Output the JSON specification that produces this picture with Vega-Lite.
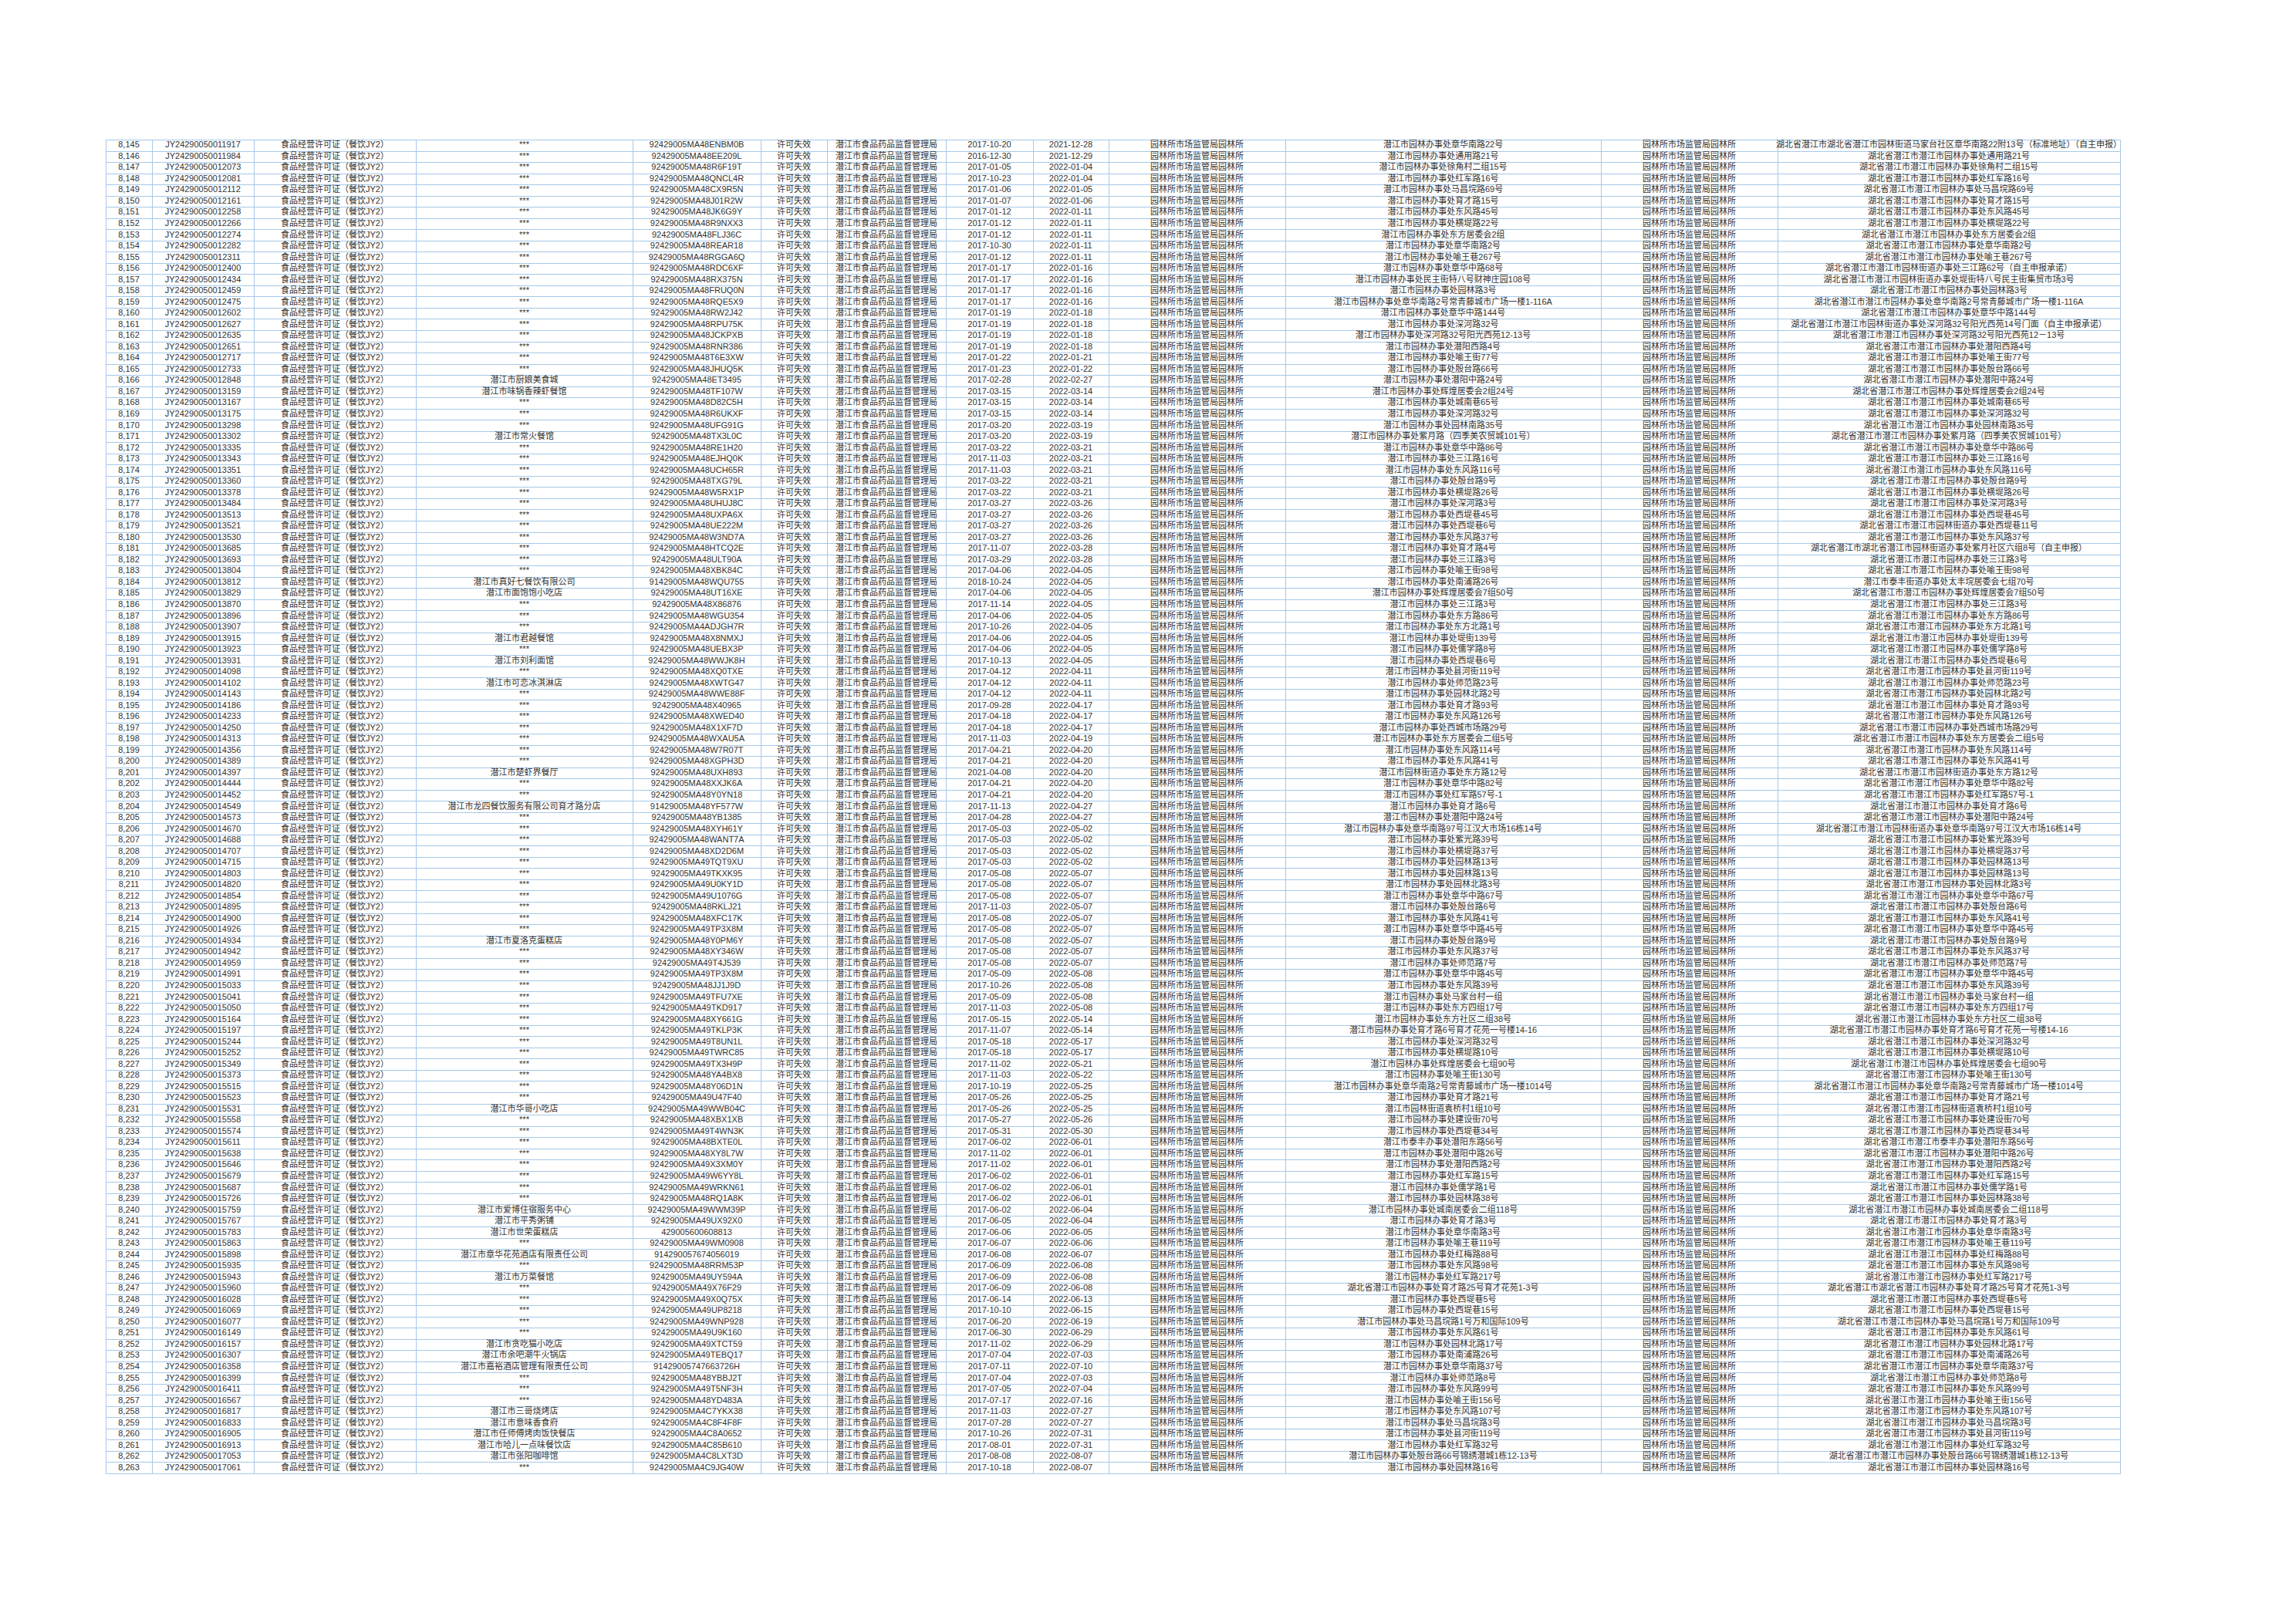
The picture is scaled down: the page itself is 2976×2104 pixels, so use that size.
{
  "$schema": "https://vega.github.io/schema/vega-lite/v6.json",
  "background": "white",
  "padding": {"left": 136, "top": 180, "right": 5, "bottom": 5},
  "spacing": 0,
  "bounds": "flush",
  "data": {"values": [
{"no":8145,"lic":"JY24290050011917","type":"食品经营许可证（餐饮JY2）","name":"***","code":"92429005MA48ENBM0B","status":"许可失效","org":"潜江市食品药品监督管理局","start":"2017-10-20","end":"2021-12-28","dept":"园林所市场监管局园林所","addr":"潜江市园林办事处章华南路22号","dept2":"园林所市场监管局园林所","addr2":"湖北省潜江市湖北省潜江市园林街道马家台社区章华南路22附13号（标准地址）（自主申报）"},
{"no":8146,"lic":"JY24290050011984","type":"食品经营许可证（餐饮JY2）","name":"***","code":"92429005MA48EE209L","status":"许可失效","org":"潜江市食品药品监督管理局","start":"2016-12-30","end":"2021-12-29","dept":"园林所市场监管局园林所","addr":"潜江市园林办事处通用路21号","dept2":"园林所市场监管局园林所","addr2":"湖北省潜江市潜江市园林办事处通用路21号"},
{"no":8147,"lic":"JY24290050012073","type":"食品经营许可证（餐饮JY2）","name":"***","code":"92429005MA48R6F19T","status":"许可失效","org":"潜江市食品药品监督管理局","start":"2017-01-05","end":"2022-01-04","dept":"园林所市场监管局园林所","addr":"潜江市园林办事处徐角村二组15号","dept2":"园林所市场监管局园林所","addr2":"湖北省潜江市潜江市园林办事处徐角村二组15号"},
{"no":8148,"lic":"JY24290050012081","type":"食品经营许可证（餐饮JY2）","name":"***","code":"92429005MA48QNCL4R","status":"许可失效","org":"潜江市食品药品监督管理局","start":"2017-10-23","end":"2022-01-04","dept":"园林所市场监管局园林所","addr":"潜江市园林办事处红军路16号","dept2":"园林所市场监管局园林所","addr2":"湖北省潜江市潜江市园林办事处红军路16号"},
{"no":8149,"lic":"JY24290050012112","type":"食品经营许可证（餐饮JY2）","name":"***","code":"92429005MA48CX9R5N","status":"许可失效","org":"潜江市食品药品监督管理局","start":"2017-01-06","end":"2022-01-05","dept":"园林所市场监管局园林所","addr":"潜江市园林办事处马昌垸路69号","dept2":"园林所市场监管局园林所","addr2":"湖北省潜江市潜江市园林办事处马昌垸路69号"},
{"no":8150,"lic":"JY24290050012161","type":"食品经营许可证（餐饮JY2）","name":"***","code":"92429005MA48J01R2W","status":"许可失效","org":"潜江市食品药品监督管理局","start":"2017-01-07","end":"2022-01-06","dept":"园林所市场监管局园林所","addr":"潜江市园林办事处育才路15号","dept2":"园林所市场监管局园林所","addr2":"湖北省潜江市潜江市园林办事处育才路15号"},
{"no":8151,"lic":"JY24290050012258","type":"食品经营许可证（餐饮JY2）","name":"***","code":"92429005MA48JK6G9Y","status":"许可失效","org":"潜江市食品药品监督管理局","start":"2017-01-12","end":"2022-01-11","dept":"园林所市场监管局园林所","addr":"潜江市园林办事处东风路45号","dept2":"园林所市场监管局园林所","addr2":"湖北省潜江市潜江市园林办事处东风路45号"},
{"no":8152,"lic":"JY24290050012266","type":"食品经营许可证（餐饮JY2）","name":"***","code":"92429005MA48R9NXX3","status":"许可失效","org":"潜江市食品药品监督管理局","start":"2017-01-12","end":"2022-01-11","dept":"园林所市场监管局园林所","addr":"潜江市园林办事处横堤路22号","dept2":"园林所市场监管局园林所","addr2":"湖北省潜江市潜江市园林办事处横堤路22号"},
{"no":8153,"lic":"JY24290050012274","type":"食品经营许可证（餐饮JY2）","name":"***","code":"92429005MA48FLJ36C","status":"许可失效","org":"潜江市食品药品监督管理局","start":"2017-01-12","end":"2022-01-11","dept":"园林所市场监管局园林所","addr":"潜江市园林办事处东方居委会2组","dept2":"园林所市场监管局园林所","addr2":"湖北省潜江市潜江市园林办事处东方居委会2组"},
{"no":8154,"lic":"JY24290050012282","type":"食品经营许可证（餐饮JY2）","name":"***","code":"92429005MA48REAR18","status":"许可失效","org":"潜江市食品药品监督管理局","start":"2017-10-30","end":"2022-01-11","dept":"园林所市场监管局园林所","addr":"潜江市园林办事处章华南路2号","dept2":"园林所市场监管局园林所","addr2":"湖北省潜江市潜江市园林办事处章华南路2号"},
{"no":8155,"lic":"JY24290050012311","type":"食品经营许可证（餐饮JY2）","name":"***","code":"92429005MA48RGGA6Q","status":"许可失效","org":"潜江市食品药品监督管理局","start":"2017-01-12","end":"2022-01-11","dept":"园林所市场监管局园林所","addr":"潜江市园林办事处喻王巷267号","dept2":"园林所市场监管局园林所","addr2":"湖北省潜江市潜江市园林办事处喻王巷267号"},
{"no":8156,"lic":"JY24290050012400","type":"食品经营许可证（餐饮JY2）","name":"***","code":"92429005MA48RDC6XF","status":"许可失效","org":"潜江市食品药品监督管理局","start":"2017-01-17","end":"2022-01-16","dept":"园林所市场监管局园林所","addr":"潜江市园林办事处章华中路68号","dept2":"园林所市场监管局园林所","addr2":"湖北省潜江市潜江市园林街道办事处三江路62号（自主申报承诺）"},
{"no":8157,"lic":"JY24290050012434","type":"食品经营许可证（餐饮JY2）","name":"***","code":"92429005MA48RX375N","status":"许可失效","org":"潜江市食品药品监督管理局","start":"2017-01-17","end":"2022-01-16","dept":"园林所市场监管局园林所","addr":"潜江市园林办事处民主街特八号财神庄园108号","dept2":"园林所市场监管局园林所","addr2":"湖北省潜江市潜江市园林街道办事处堤街特八号民主街集贸市场3号"},
{"no":8158,"lic":"JY24290050012459","type":"食品经营许可证（餐饮JY2）","name":"***","code":"92429005MA48FRUQ0N","status":"许可失效","org":"潜江市食品药品监督管理局","start":"2017-01-17","end":"2022-01-16","dept":"园林所市场监管局园林所","addr":"潜江市园林办事处园林路3号","dept2":"园林所市场监管局园林所","addr2":"湖北省潜江市潜江市园林办事处园林路3号"},
{"no":8159,"lic":"JY24290050012475","type":"食品经营许可证（餐饮JY2）","name":"***","code":"92429005MA48RQE5X9","status":"许可失效","org":"潜江市食品药品监督管理局","start":"2017-01-17","end":"2022-01-16","dept":"园林所市场监管局园林所","addr":"潜江市园林办事处章华南路2号常青藤城市广场一楼1-116A","dept2":"园林所市场监管局园林所","addr2":"湖北省潜江市潜江市园林办事处章华南路2号常青藤城市广场一楼1-116A"},
{"no":8160,"lic":"JY24290050012602","type":"食品经营许可证（餐饮JY2）","name":"***","code":"92429005MA48RW2J42","status":"许可失效","org":"潜江市食品药品监督管理局","start":"2017-01-19","end":"2022-01-18","dept":"园林所市场监管局园林所","addr":"潜江市园林办事处章华中路144号","dept2":"园林所市场监管局园林所","addr2":"湖北省潜江市潜江市园林办事处章华中路144号"},
{"no":8161,"lic":"JY24290050012627","type":"食品经营许可证（餐饮JY2）","name":"***","code":"92429005MA48RPU75K","status":"许可失效","org":"潜江市食品药品监督管理局","start":"2017-01-19","end":"2022-01-18","dept":"园林所市场监管局园林所","addr":"潜江市园林办事处深河路32号","dept2":"园林所市场监管局园林所","addr2":"湖北省潜江市潜江市园林街道办事处深河路32号阳光西苑14号门面（自主申报承诺）"},
{"no":8162,"lic":"JY24290050012635","type":"食品经营许可证（餐饮JY2）","name":"***","code":"92429005MA48JCKPXB","status":"许可失效","org":"潜江市食品药品监督管理局","start":"2017-01-19","end":"2022-01-18","dept":"园林所市场监管局园林所","addr":"潜江市园林办事处深河路32号阳光西苑12-13号","dept2":"园林所市场监管局园林所","addr2":"湖北省潜江市潜江市园林办事处深河路32号阳光西苑12－13号"},
{"no":8163,"lic":"JY24290050012651","type":"食品经营许可证（餐饮JY2）","name":"***","code":"92429005MA48RNR386","status":"许可失效","org":"潜江市食品药品监督管理局","start":"2017-01-19","end":"2022-01-18","dept":"园林所市场监管局园林所","addr":"潜江市园林办事处潜阳西路4号","dept2":"园林所市场监管局园林所","addr2":"湖北省潜江市潜江市园林办事处潜阳西路4号"},
{"no":8164,"lic":"JY24290050012717","type":"食品经营许可证（餐饮JY2）","name":"***","code":"92429005MA48T6E3XW","status":"许可失效","org":"潜江市食品药品监督管理局","start":"2017-01-22","end":"2022-01-21","dept":"园林所市场监管局园林所","addr":"潜江市园林办事处喻王街77号","dept2":"园林所市场监管局园林所","addr2":"湖北省潜江市潜江市园林办事处喻王街77号"},
{"no":8165,"lic":"JY24290050012733","type":"食品经营许可证（餐饮JY2）","name":"***","code":"92429005MA48JHUQ5K","status":"许可失效","org":"潜江市食品药品监督管理局","start":"2017-01-23","end":"2022-01-22","dept":"园林所市场监管局园林所","addr":"潜江市园林办事处殷台路66号","dept2":"园林所市场监管局园林所","addr2":"湖北省潜江市潜江市园林办事处殷台路66号"},
{"no":8166,"lic":"JY24290050012848","type":"食品经营许可证（餐饮JY2）","name":"潜江市厨娘美食城","code":"92429005MA48ET3495","status":"许可失效","org":"潜江市食品药品监督管理局","start":"2017-02-28","end":"2022-02-27","dept":"园林所市场监管局园林所","addr":"潜江市园林办事处潜阳中路24号","dept2":"园林所市场监管局园林所","addr2":"湖北省潜江市潜江市园林办事处潜阳中路24号"},
{"no":8167,"lic":"JY24290050013159","type":"食品经营许可证（餐饮JY2）","name":"潜江市味锅香辣虾餐馆","code":"92429005MA48TF107W","status":"许可失效","org":"潜江市食品药品监督管理局","start":"2017-03-15","end":"2022-03-14","dept":"园林所市场监管局园林所","addr":"潜江市园林办事处辉煌居委会2组24号","dept2":"园林所市场监管局园林所","addr2":"湖北省潜江市潜江市园林办事处辉煌居委会2组24号"},
{"no":8168,"lic":"JY24290050013167","type":"食品经营许可证（餐饮JY2）","name":"***","code":"92429005MA48D82C5H","status":"许可失效","org":"潜江市食品药品监督管理局","start":"2017-03-15","end":"2022-03-14","dept":"园林所市场监管局园林所","addr":"潜江市园林办事处城南巷65号","dept2":"园林所市场监管局园林所","addr2":"湖北省潜江市潜江市园林办事处城南巷65号"},
{"no":8169,"lic":"JY24290050013175","type":"食品经营许可证（餐饮JY2）","name":"***","code":"92429005MA48R6UKXF","status":"许可失效","org":"潜江市食品药品监督管理局","start":"2017-03-15","end":"2022-03-14","dept":"园林所市场监管局园林所","addr":"潜江市园林办事处深河路32号","dept2":"园林所市场监管局园林所","addr2":"湖北省潜江市潜江市园林办事处深河路32号"},
{"no":8170,"lic":"JY24290050013298","type":"食品经营许可证（餐饮JY2）","name":"***","code":"92429005MA48UFG91G","status":"许可失效","org":"潜江市食品药品监督管理局","start":"2017-03-20","end":"2022-03-19","dept":"园林所市场监管局园林所","addr":"潜江市园林办事处园林南路35号","dept2":"园林所市场监管局园林所","addr2":"湖北省潜江市潜江市园林办事处园林南路35号"},
{"no":8171,"lic":"JY24290050013302","type":"食品经营许可证（餐饮JY2）","name":"潜江市常火餐馆","code":"92429005MA48TX3L0C","status":"许可失效","org":"潜江市食品药品监督管理局","start":"2017-03-20","end":"2022-03-19","dept":"园林所市场监管局园林所","addr":"潜江市园林办事处紫月路（四季美农贸城101号）","dept2":"园林所市场监管局园林所","addr2":"湖北省潜江市潜江市园林办事处紫月路（四季美农贸城101号）"},
{"no":8172,"lic":"JY24290050013335","type":"食品经营许可证（餐饮JY2）","name":"***","code":"92429005MA48RE1H20","status":"许可失效","org":"潜江市食品药品监督管理局","start":"2017-03-22","end":"2022-03-21","dept":"园林所市场监管局园林所","addr":"潜江市园林办事处章华中路86号","dept2":"园林所市场监管局园林所","addr2":"湖北省潜江市潜江市园林办事处章华中路86号"},
{"no":8173,"lic":"JY24290050013343","type":"食品经营许可证（餐饮JY2）","name":"***","code":"92429005MA48EJHQ0K","status":"许可失效","org":"潜江市食品药品监督管理局","start":"2017-11-03","end":"2022-03-21","dept":"园林所市场监管局园林所","addr":"潜江市园林办事处三江路16号","dept2":"园林所市场监管局园林所","addr2":"湖北省潜江市潜江市园林办事处三江路16号"},
{"no":8174,"lic":"JY24290050013351","type":"食品经营许可证（餐饮JY2）","name":"***","code":"92429005MA48UCH65R","status":"许可失效","org":"潜江市食品药品监督管理局","start":"2017-11-03","end":"2022-03-21","dept":"园林所市场监管局园林所","addr":"潜江市园林办事处东风路116号","dept2":"园林所市场监管局园林所","addr2":"湖北省潜江市潜江市园林办事处东风路116号"},
{"no":8175,"lic":"JY24290050013360","type":"食品经营许可证（餐饮JY2）","name":"***","code":"92429005MA48TXG79L","status":"许可失效","org":"潜江市食品药品监督管理局","start":"2017-03-22","end":"2022-03-21","dept":"园林所市场监管局园林所","addr":"潜江市园林办事处殷台路9号","dept2":"园林所市场监管局园林所","addr2":"湖北省潜江市潜江市园林办事处殷台路9号"},
{"no":8176,"lic":"JY24290050013378","type":"食品经营许可证（餐饮JY2）","name":"***","code":"92429005MA48W5RX1P","status":"许可失效","org":"潜江市食品药品监督管理局","start":"2017-03-22","end":"2022-03-21","dept":"园林所市场监管局园林所","addr":"潜江市园林办事处横堤路26号","dept2":"园林所市场监管局园林所","addr2":"湖北省潜江市潜江市园林办事处横堤路26号"},
{"no":8177,"lic":"JY24290050013484","type":"食品经营许可证（餐饮JY2）","name":"***","code":"92429005MA48UHUJ8C","status":"许可失效","org":"潜江市食品药品监督管理局","start":"2017-03-27","end":"2022-03-26","dept":"园林所市场监管局园林所","addr":"潜江市园林办事处深河路3号","dept2":"园林所市场监管局园林所","addr2":"湖北省潜江市潜江市园林办事处深河路3号"},
{"no":8178,"lic":"JY24290050013513","type":"食品经营许可证（餐饮JY2）","name":"***","code":"92429005MA48UXPA6X","status":"许可失效","org":"潜江市食品药品监督管理局","start":"2017-03-27","end":"2022-03-26","dept":"园林所市场监管局园林所","addr":"潜江市园林办事处西堤巷45号","dept2":"园林所市场监管局园林所","addr2":"湖北省潜江市潜江市园林办事处西堤巷45号"},
{"no":8179,"lic":"JY24290050013521","type":"食品经营许可证（餐饮JY2）","name":"***","code":"92429005MA48UE222M","status":"许可失效","org":"潜江市食品药品监督管理局","start":"2017-03-27","end":"2022-03-26","dept":"园林所市场监管局园林所","addr":"潜江市园林办事处西堤巷6号","dept2":"园林所市场监管局园林所","addr2":"湖北省潜江市潜江市园林街道办事处西堤巷11号"},
{"no":8180,"lic":"JY24290050013530","type":"食品经营许可证（餐饮JY2）","name":"***","code":"92429005MA48W3ND7A","status":"许可失效","org":"潜江市食品药品监督管理局","start":"2017-03-27","end":"2022-03-26","dept":"园林所市场监管局园林所","addr":"潜江市园林办事处东风路37号","dept2":"园林所市场监管局园林所","addr2":"湖北省潜江市潜江市园林办事处东风路37号"},
{"no":8181,"lic":"JY24290050013685","type":"食品经营许可证（餐饮JY2）","name":"***","code":"92429005MA48HTCQ2E","status":"许可失效","org":"潜江市食品药品监督管理局","start":"2017-11-07","end":"2022-03-28","dept":"园林所市场监管局园林所","addr":"潜江市园林办事处育才路4号","dept2":"园林所市场监管局园林所","addr2":"湖北省潜江市湖北省潜江市园林街道办事处紫月社区六组8号（自主申报）"},
{"no":8182,"lic":"JY24290050013693","type":"食品经营许可证（餐饮JY2）","name":"***","code":"92429005MA48ULT90A","status":"许可失效","org":"潜江市食品药品监督管理局","start":"2017-03-29","end":"2022-03-28","dept":"园林所市场监管局园林所","addr":"潜江市园林办事处三江路3号","dept2":"园林所市场监管局园林所","addr2":"湖北省潜江市潜江市园林办事处三江路3号"},
{"no":8183,"lic":"JY24290050013804","type":"食品经营许可证（餐饮JY2）","name":"***","code":"92429005MA48XBK84C","status":"许可失效","org":"潜江市食品药品监督管理局","start":"2017-04-06","end":"2022-04-05","dept":"园林所市场监管局园林所","addr":"潜江市园林办事处喻王街98号","dept2":"园林所市场监管局园林所","addr2":"湖北省潜江市潜江市园林办事处喻王街98号"},
{"no":8184,"lic":"JY24290050013812","type":"食品经营许可证（餐饮JY2）","name":"潜江市真好七餐饮有限公司","code":"91429005MA48WQU755","status":"许可失效","org":"潜江市食品药品监督管理局","start":"2018-10-24","end":"2022-04-05","dept":"园林所市场监管局园林所","addr":"潜江市园林办事处南浦路26号","dept2":"园林所市场监管局园林所","addr2":"潜江市泰丰街道办事处太丰垸居委会七组70号"},
{"no":8185,"lic":"JY24290050013829","type":"食品经营许可证（餐饮JY2）","name":"潜江市面饱饱小吃店","code":"92429005MA48UT16XE","status":"许可失效","org":"潜江市食品药品监督管理局","start":"2017-04-06","end":"2022-04-05","dept":"园林所市场监管局园林所","addr":"潜江市园林办事处辉煌居委会7组50号","dept2":"园林所市场监管局园林所","addr2":"湖北省潜江市潜江市园林办事处辉煌居委会7组50号"},
{"no":8186,"lic":"JY24290050013870","type":"食品经营许可证（餐饮JY2）","name":"***","code":"92429005MA48X86876","status":"许可失效","org":"潜江市食品药品监督管理局","start":"2017-11-14","end":"2022-04-05","dept":"园林所市场监管局园林所","addr":"潜江市园林办事处三江路3号","dept2":"园林所市场监管局园林所","addr2":"湖北省潜江市潜江市园林办事处三江路3号"},
{"no":8187,"lic":"JY24290050013896","type":"食品经营许可证（餐饮JY2）","name":"***","code":"92429005MA48WGU354","status":"许可失效","org":"潜江市食品药品监督管理局","start":"2017-04-06","end":"2022-04-05","dept":"园林所市场监管局园林所","addr":"潜江市园林办事处东方路86号","dept2":"园林所市场监管局园林所","addr2":"湖北省潜江市潜江市园林办事处东方路86号"},
{"no":8188,"lic":"JY24290050013907","type":"食品经营许可证（餐饮JY2）","name":"***","code":"92429005MA4ADJGH7R","status":"许可失效","org":"潜江市食品药品监督管理局","start":"2017-10-26","end":"2022-04-05","dept":"园林所市场监管局园林所","addr":"潜江市园林办事处东方北路1号","dept2":"园林所市场监管局园林所","addr2":"湖北省潜江市潜江市园林办事处东方北路1号"},
{"no":8189,"lic":"JY24290050013915","type":"食品经营许可证（餐饮JY2）","name":"潜江市君越餐馆","code":"92429005MA48X8NMXJ","status":"许可失效","org":"潜江市食品药品监督管理局","start":"2017-04-06","end":"2022-04-05","dept":"园林所市场监管局园林所","addr":"潜江市园林办事处堤街139号","dept2":"园林所市场监管局园林所","addr2":"湖北省潜江市潜江市园林办事处堤街139号"},
{"no":8190,"lic":"JY24290050013923","type":"食品经营许可证（餐饮JY2）","name":"***","code":"92429005MA48UEBX3P","status":"许可失效","org":"潜江市食品药品监督管理局","start":"2017-04-06","end":"2022-04-05","dept":"园林所市场监管局园林所","addr":"潜江市园林办事处儒学路8号","dept2":"园林所市场监管局园林所","addr2":"湖北省潜江市潜江市园林办事处儒学路8号"},
{"no":8191,"lic":"JY24290050013931","type":"食品经营许可证（餐饮JY2）","name":"潜江市刘利面馆","code":"92429005MA48WWJK8H","status":"许可失效","org":"潜江市食品药品监督管理局","start":"2017-10-13","end":"2022-04-05","dept":"园林所市场监管局园林所","addr":"潜江市园林办事处西堤巷6号","dept2":"园林所市场监管局园林所","addr2":"湖北省潜江市潜江市园林办事处西堤巷6号"},
{"no":8192,"lic":"JY24290050014098","type":"食品经营许可证（餐饮JY2）","name":"***","code":"92429005MA48XQ0TXE","status":"许可失效","org":"潜江市食品药品监督管理局","start":"2017-04-12","end":"2022-04-11","dept":"园林所市场监管局园林所","addr":"潜江市园林办事处县河街119号","dept2":"园林所市场监管局园林所","addr2":"湖北省潜江市潜江市园林办事处县河街119号"},
{"no":8193,"lic":"JY24290050014102","type":"食品经营许可证（餐饮JY2）","name":"潜江市可恋冰淇淋店","code":"92429005MA48XWTG47","status":"许可失效","org":"潜江市食品药品监督管理局","start":"2017-04-12","end":"2022-04-11","dept":"园林所市场监管局园林所","addr":"潜江市园林办事处师范路23号","dept2":"园林所市场监管局园林所","addr2":"湖北省潜江市潜江市园林办事处师范路23号"},
{"no":8194,"lic":"JY24290050014143","type":"食品经营许可证（餐饮JY2）","name":"***","code":"92429005MA48WWE88F","status":"许可失效","org":"潜江市食品药品监督管理局","start":"2017-04-12","end":"2022-04-11","dept":"园林所市场监管局园林所","addr":"潜江市园林办事处园林北路2号","dept2":"园林所市场监管局园林所","addr2":"湖北省潜江市潜江市园林办事处园林北路2号"},
{"no":8195,"lic":"JY24290050014186","type":"食品经营许可证（餐饮JY2）","name":"***","code":"92429005MA48X40965","status":"许可失效","org":"潜江市食品药品监督管理局","start":"2017-09-28","end":"2022-04-17","dept":"园林所市场监管局园林所","addr":"潜江市园林办事处育才路93号","dept2":"园林所市场监管局园林所","addr2":"湖北省潜江市潜江市园林办事处育才路93号"},
{"no":8196,"lic":"JY24290050014233","type":"食品经营许可证（餐饮JY2）","name":"***","code":"92429005MA48XWED40","status":"许可失效","org":"潜江市食品药品监督管理局","start":"2017-04-18","end":"2022-04-17","dept":"园林所市场监管局园林所","addr":"潜江市园林办事处东风路126号","dept2":"园林所市场监管局园林所","addr2":"湖北省潜江市潜江市园林办事处东风路126号"},
{"no":8197,"lic":"JY24290050014250","type":"食品经营许可证（餐饮JY2）","name":"***","code":"92429005MA48X1XF7D","status":"许可失效","org":"潜江市食品药品监督管理局","start":"2017-04-18","end":"2022-04-17","dept":"园林所市场监管局园林所","addr":"潜江市园林办事处西城市场路29号","dept2":"园林所市场监管局园林所","addr2":"湖北省潜江市潜江市园林办事处西城市场路29号"},
{"no":8198,"lic":"JY24290050014313","type":"食品经营许可证（餐饮JY2）","name":"***","code":"92429005MA48WXAU5A","status":"许可失效","org":"潜江市食品药品监督管理局","start":"2017-11-03","end":"2022-04-19","dept":"园林所市场监管局园林所","addr":"潜江市园林办事处东方居委会二组5号","dept2":"园林所市场监管局园林所","addr2":"湖北省潜江市潜江市园林办事处东方居委会二组5号"},
{"no":8199,"lic":"JY24290050014356","type":"食品经营许可证（餐饮JY2）","name":"***","code":"92429005MA48W7R07T","status":"许可失效","org":"潜江市食品药品监督管理局","start":"2017-04-21","end":"2022-04-20","dept":"园林所市场监管局园林所","addr":"潜江市园林办事处东风路114号","dept2":"园林所市场监管局园林所","addr2":"湖北省潜江市潜江市园林办事处东风路114号"},
{"no":8200,"lic":"JY24290050014389","type":"食品经营许可证（餐饮JY2）","name":"***","code":"92429005MA48XGPH3D","status":"许可失效","org":"潜江市食品药品监督管理局","start":"2017-04-21","end":"2022-04-20","dept":"园林所市场监管局园林所","addr":"潜江市园林办事处东风路41号","dept2":"园林所市场监管局园林所","addr2":"湖北省潜江市潜江市园林办事处东风路41号"},
{"no":8201,"lic":"JY24290050014397","type":"食品经营许可证（餐饮JY2）","name":"潜江市楚虾界餐厅","code":"92429005MA48UXH893","status":"许可失效","org":"潜江市食品药品监督管理局","start":"2021-04-08","end":"2022-04-20","dept":"园林所市场监管局园林所","addr":"潜江市园林街道办事处东方路12号","dept2":"园林所市场监管局园林所","addr2":"湖北省潜江市潜江市园林街道办事处东方路12号"},
{"no":8202,"lic":"JY24290050014444","type":"食品经营许可证（餐饮JY2）","name":"***","code":"92429005MA48XXJK6A","status":"许可失效","org":"潜江市食品药品监督管理局","start":"2017-04-21","end":"2022-04-20","dept":"园林所市场监管局园林所","addr":"潜江市园林办事处章华中路82号","dept2":"园林所市场监管局园林所","addr2":"湖北省潜江市潜江市园林办事处章华中路82号"},
{"no":8203,"lic":"JY24290050014452","type":"食品经营许可证（餐饮JY2）","name":"***","code":"92429005MA48Y0YN18","status":"许可失效","org":"潜江市食品药品监督管理局","start":"2017-04-21","end":"2022-04-20","dept":"园林所市场监管局园林所","addr":"潜江市园林办事处红军路57号-1","dept2":"园林所市场监管局园林所","addr2":"湖北省潜江市潜江市园林办事处红军路57号-1"},
{"no":8204,"lic":"JY24290050014549","type":"食品经营许可证（餐饮JY2）","name":"潜江市龙四餐饮服务有限公司育才路分店","code":"91429005MA48YF577W","status":"许可失效","org":"潜江市食品药品监督管理局","start":"2017-11-13","end":"2022-04-27","dept":"园林所市场监管局园林所","addr":"潜江市园林办事处育才路6号","dept2":"园林所市场监管局园林所","addr2":"湖北省潜江市潜江市园林办事处育才路6号"},
{"no":8205,"lic":"JY24290050014573","type":"食品经营许可证（餐饮JY2）","name":"***","code":"92429005MA48YB1385","status":"许可失效","org":"潜江市食品药品监督管理局","start":"2017-04-28","end":"2022-04-27","dept":"园林所市场监管局园林所","addr":"潜江市园林办事处潜阳中路24号","dept2":"园林所市场监管局园林所","addr2":"湖北省潜江市潜江市园林办事处潜阳中路24号"},
{"no":8206,"lic":"JY24290050014670","type":"食品经营许可证（餐饮JY2）","name":"***","code":"92429005MA48XYH61Y","status":"许可失效","org":"潜江市食品药品监督管理局","start":"2017-05-03","end":"2022-05-02","dept":"园林所市场监管局园林所","addr":"潜江市园林办事处章华南路97号江汉大市场16栋14号","dept2":"园林所市场监管局园林所","addr2":"湖北省潜江市潜江市园林街道办事处章华南路97号江汉大市场16栋14号"},
{"no":8207,"lic":"JY24290050014688","type":"食品经营许可证（餐饮JY2）","name":"***","code":"92429005MA48WANT7A","status":"许可失效","org":"潜江市食品药品监督管理局","start":"2017-05-03","end":"2022-05-02","dept":"园林所市场监管局园林所","addr":"潜江市园林办事处紫光路39号","dept2":"园林所市场监管局园林所","addr2":"湖北省潜江市潜江市园林办事处紫光路39号"},
{"no":8208,"lic":"JY24290050014707","type":"食品经营许可证（餐饮JY2）","name":"***","code":"92429005MA48XD2D6M","status":"许可失效","org":"潜江市食品药品监督管理局","start":"2017-05-03","end":"2022-05-02","dept":"园林所市场监管局园林所","addr":"潜江市园林办事处横堤路37号","dept2":"园林所市场监管局园林所","addr2":"湖北省潜江市潜江市园林办事处横堤路37号"},
{"no":8209,"lic":"JY24290050014715","type":"食品经营许可证（餐饮JY2）","name":"***","code":"92429005MA49TQT9XU","status":"许可失效","org":"潜江市食品药品监督管理局","start":"2017-05-03","end":"2022-05-02","dept":"园林所市场监管局园林所","addr":"潜江市园林办事处园林路13号","dept2":"园林所市场监管局园林所","addr2":"湖北省潜江市潜江市园林办事处园林路13号"},
{"no":8210,"lic":"JY24290050014803","type":"食品经营许可证（餐饮JY2）","name":"***","code":"92429005MA49TKXK95","status":"许可失效","org":"潜江市食品药品监督管理局","start":"2017-05-08","end":"2022-05-07","dept":"园林所市场监管局园林所","addr":"潜江市园林办事处园林路13号","dept2":"园林所市场监管局园林所","addr2":"湖北省潜江市潜江市园林办事处园林路13号"},
{"no":8211,"lic":"JY24290050014820","type":"食品经营许可证（餐饮JY2）","name":"***","code":"92429005MA49U0KY1D","status":"许可失效","org":"潜江市食品药品监督管理局","start":"2017-05-08","end":"2022-05-07","dept":"园林所市场监管局园林所","addr":"潜江市园林办事处园林北路3号","dept2":"园林所市场监管局园林所","addr2":"湖北省潜江市潜江市园林办事处园林北路3号"},
{"no":8212,"lic":"JY24290050014854","type":"食品经营许可证（餐饮JY2）","name":"***","code":"92429005MA49U1076G","status":"许可失效","org":"潜江市食品药品监督管理局","start":"2017-05-08","end":"2022-05-07","dept":"园林所市场监管局园林所","addr":"潜江市园林办事处章华中路67号","dept2":"园林所市场监管局园林所","addr2":"湖北省潜江市潜江市园林办事处章华中路67号"},
{"no":8213,"lic":"JY24290050014895","type":"食品经营许可证（餐饮JY2）","name":"***","code":"92429005MA48RKLJ21","status":"许可失效","org":"潜江市食品药品监督管理局","start":"2017-11-03","end":"2022-05-07","dept":"园林所市场监管局园林所","addr":"潜江市园林办事处殷台路6号","dept2":"园林所市场监管局园林所","addr2":"湖北省潜江市潜江市园林办事处殷台路6号"},
{"no":8214,"lic":"JY24290050014900","type":"食品经营许可证（餐饮JY2）","name":"***","code":"92429005MA48XFC17K","status":"许可失效","org":"潜江市食品药品监督管理局","start":"2017-05-08","end":"2022-05-07","dept":"园林所市场监管局园林所","addr":"潜江市园林办事处东风路41号","dept2":"园林所市场监管局园林所","addr2":"湖北省潜江市潜江市园林办事处东风路41号"},
{"no":8215,"lic":"JY24290050014926","type":"食品经营许可证（餐饮JY2）","name":"***","code":"92429005MA49TP3X8M","status":"许可失效","org":"潜江市食品药品监督管理局","start":"2017-05-08","end":"2022-05-07","dept":"园林所市场监管局园林所","addr":"潜江市园林办事处章华中路45号","dept2":"园林所市场监管局园林所","addr2":"湖北省潜江市潜江市园林办事处章华中路45号"},
{"no":8216,"lic":"JY24290050014934","type":"食品经营许可证（餐饮JY2）","name":"潜江市夏洛克蛋糕店","code":"92429005MA48Y0PM6Y","status":"许可失效","org":"潜江市食品药品监督管理局","start":"2017-05-08","end":"2022-05-07","dept":"园林所市场监管局园林所","addr":"潜江市园林办事处殷台路9号","dept2":"园林所市场监管局园林所","addr2":"湖北省潜江市潜江市园林办事处殷台路9号"},
{"no":8217,"lic":"JY24290050014942","type":"食品经营许可证（餐饮JY2）","name":"***","code":"92429005MA48XY346W","status":"许可失效","org":"潜江市食品药品监督管理局","start":"2017-05-08","end":"2022-05-07","dept":"园林所市场监管局园林所","addr":"潜江市园林办事处东风路37号","dept2":"园林所市场监管局园林所","addr2":"湖北省潜江市潜江市园林办事处东风路37号"},
{"no":8218,"lic":"JY24290050014959","type":"食品经营许可证（餐饮JY2）","name":"***","code":"92429005MA49T4J539","status":"许可失效","org":"潜江市食品药品监督管理局","start":"2017-05-08","end":"2022-05-07","dept":"园林所市场监管局园林所","addr":"潜江市园林办事处师范路7号","dept2":"园林所市场监管局园林所","addr2":"湖北省潜江市潜江市园林办事处师范路7号"},
{"no":8219,"lic":"JY24290050014991","type":"食品经营许可证（餐饮JY2）","name":"***","code":"92429005MA49TP3X8M","status":"许可失效","org":"潜江市食品药品监督管理局","start":"2017-05-09","end":"2022-05-08","dept":"园林所市场监管局园林所","addr":"潜江市园林办事处章华中路45号","dept2":"园林所市场监管局园林所","addr2":"湖北省潜江市潜江市园林办事处章华中路45号"},
{"no":8220,"lic":"JY24290050015033","type":"食品经营许可证（餐饮JY2）","name":"***","code":"92429005MA48JJ1J9D","status":"许可失效","org":"潜江市食品药品监督管理局","start":"2017-10-26","end":"2022-05-08","dept":"园林所市场监管局园林所","addr":"潜江市园林办事处东风路39号","dept2":"园林所市场监管局园林所","addr2":"湖北省潜江市潜江市园林办事处东风路39号"},
{"no":8221,"lic":"JY24290050015041","type":"食品经营许可证（餐饮JY2）","name":"***","code":"92429005MA49TFU7XE","status":"许可失效","org":"潜江市食品药品监督管理局","start":"2017-05-09","end":"2022-05-08","dept":"园林所市场监管局园林所","addr":"潜江市园林办事处马家台村一组","dept2":"园林所市场监管局园林所","addr2":"湖北省潜江市潜江市园林办事处马家台村一组"},
{"no":8222,"lic":"JY24290050015050","type":"食品经营许可证（餐饮JY2）","name":"***","code":"92429005MA49TKD917","status":"许可失效","org":"潜江市食品药品监督管理局","start":"2017-11-03","end":"2022-05-08","dept":"园林所市场监管局园林所","addr":"潜江市园林办事处东方四组17号","dept2":"园林所市场监管局园林所","addr2":"湖北省潜江市潜江市园林办事处东方四组17号"},
{"no":8223,"lic":"JY24290050015164","type":"食品经营许可证（餐饮JY2）","name":"***","code":"92429005MA48XY661G","status":"许可失效","org":"潜江市食品药品监督管理局","start":"2017-05-15","end":"2022-05-14","dept":"园林所市场监管局园林所","addr":"潜江市园林办事处东方社区二组38号","dept2":"园林所市场监管局园林所","addr2":"湖北省潜江市潜江市园林办事处东方社区二组38号"},
{"no":8224,"lic":"JY24290050015197","type":"食品经营许可证（餐饮JY2）","name":"***","code":"92429005MA49TKLP3K","status":"许可失效","org":"潜江市食品药品监督管理局","start":"2017-11-07","end":"2022-05-14","dept":"园林所市场监管局园林所","addr":"潜江市园林办事处育才路6号育才花苑一号楼14-16","dept2":"园林所市场监管局园林所","addr2":"湖北省潜江市潜江市园林办事处育才路6号育才花苑一号楼14-16"},
{"no":8225,"lic":"JY24290050015244","type":"食品经营许可证（餐饮JY2）","name":"***","code":"92429005MA49T8UN1L","status":"许可失效","org":"潜江市食品药品监督管理局","start":"2017-05-18","end":"2022-05-17","dept":"园林所市场监管局园林所","addr":"潜江市园林办事处深河路32号","dept2":"园林所市场监管局园林所","addr2":"湖北省潜江市潜江市园林办事处深河路32号"},
{"no":8226,"lic":"JY24290050015252","type":"食品经营许可证（餐饮JY2）","name":"***","code":"92429005MA49TWRC85","status":"许可失效","org":"潜江市食品药品监督管理局","start":"2017-05-18","end":"2022-05-17","dept":"园林所市场监管局园林所","addr":"潜江市园林办事处横堤路10号","dept2":"园林所市场监管局园林所","addr2":"湖北省潜江市潜江市园林办事处横堤路10号"},
{"no":8227,"lic":"JY24290050015349","type":"食品经营许可证（餐饮JY2）","name":"***","code":"92429005MA49TX3H9P","status":"许可失效","org":"潜江市食品药品监督管理局","start":"2017-11-02","end":"2022-05-21","dept":"园林所市场监管局园林所","addr":"潜江市园林办事处辉煌居委会七组90号","dept2":"园林所市场监管局园林所","addr2":"湖北省潜江市潜江市园林办事处辉煌居委会七组90号"},
{"no":8228,"lic":"JY24290050015373","type":"食品经营许可证（餐饮JY2）","name":"***","code":"92429005MA48YA4BX8","status":"许可失效","org":"潜江市食品药品监督管理局","start":"2017-11-03","end":"2022-05-22","dept":"园林所市场监管局园林所","addr":"潜江市园林办事处喻王街130号","dept2":"园林所市场监管局园林所","addr2":"湖北省潜江市潜江市园林办事处喻王街130号"},
{"no":8229,"lic":"JY24290050015515","type":"食品经营许可证（餐饮JY2）","name":"***","code":"92429005MA48Y06D1N","status":"许可失效","org":"潜江市食品药品监督管理局","start":"2017-10-19","end":"2022-05-25","dept":"园林所市场监管局园林所","addr":"潜江市园林办事处章华南路2号常青藤城市广场一楼1014号","dept2":"园林所市场监管局园林所","addr2":"湖北省潜江市潜江市园林办事处章华南路2号常青藤城市广场一楼1014号"},
{"no":8230,"lic":"JY24290050015523","type":"食品经营许可证（餐饮JY2）","name":"***","code":"92429005MA49U47F40","status":"许可失效","org":"潜江市食品药品监督管理局","start":"2017-05-26","end":"2022-05-25","dept":"园林所市场监管局园林所","addr":"潜江市园林办事处育才路21号","dept2":"园林所市场监管局园林所","addr2":"湖北省潜江市潜江市园林办事处育才路21号"},
{"no":8231,"lic":"JY24290050015531","type":"食品经营许可证（餐饮JY2）","name":"潜江市华哥小吃店","code":"92429005MA49WWB04C","status":"许可失效","org":"潜江市食品药品监督管理局","start":"2017-05-26","end":"2022-05-25","dept":"园林所市场监管局园林所","addr":"潜江市园林街道袁桥村1组10号","dept2":"园林所市场监管局园林所","addr2":"湖北省潜江市潜江市园林街道袁桥村1组10号"},
{"no":8232,"lic":"JY24290050015558","type":"食品经营许可证（餐饮JY2）","name":"***","code":"92429005MA48XBX1XB","status":"许可失效","org":"潜江市食品药品监督管理局","start":"2017-05-27","end":"2022-05-26","dept":"园林所市场监管局园林所","addr":"潜江市园林办事处建设街70号","dept2":"园林所市场监管局园林所","addr2":"湖北省潜江市潜江市园林办事处建设街70号"},
{"no":8233,"lic":"JY24290050015574","type":"食品经营许可证（餐饮JY2）","name":"***","code":"92429005MA49T4WN3K","status":"许可失效","org":"潜江市食品药品监督管理局","start":"2017-05-31","end":"2022-05-30","dept":"园林所市场监管局园林所","addr":"潜江市园林办事处西堤巷34号","dept2":"园林所市场监管局园林所","addr2":"湖北省潜江市潜江市园林办事处西堤巷34号"},
{"no":8234,"lic":"JY24290050015611","type":"食品经营许可证（餐饮JY2）","name":"***","code":"92429005MA48BXTE0L","status":"许可失效","org":"潜江市食品药品监督管理局","start":"2017-06-02","end":"2022-06-01","dept":"园林所市场监管局园林所","addr":"潜江市泰丰办事处潜阳东路56号","dept2":"园林所市场监管局园林所","addr2":"湖北省潜江市潜江市泰丰办事处潜阳东路56号"},
{"no":8235,"lic":"JY24290050015638","type":"食品经营许可证（餐饮JY2）","name":"***","code":"92429005MA48XY8L7W","status":"许可失效","org":"潜江市食品药品监督管理局","start":"2017-11-02","end":"2022-06-01","dept":"园林所市场监管局园林所","addr":"潜江市园林办事处潜阳中路26号","dept2":"园林所市场监管局园林所","addr2":"湖北省潜江市潜江市园林办事处潜阳中路26号"},
{"no":8236,"lic":"JY24290050015646","type":"食品经营许可证（餐饮JY2）","name":"***","code":"92429005MA49X3XM0Y","status":"许可失效","org":"潜江市食品药品监督管理局","start":"2017-11-02","end":"2022-06-01","dept":"园林所市场监管局园林所","addr":"潜江市园林办事处潜阳西路2号","dept2":"园林所市场监管局园林所","addr2":"湖北省潜江市潜江市园林办事处潜阳西路2号"},
{"no":8237,"lic":"JY24290050015679","type":"食品经营许可证（餐饮JY2）","name":"***","code":"92429005MA49W6YY8L","status":"许可失效","org":"潜江市食品药品监督管理局","start":"2017-06-02","end":"2022-06-01","dept":"园林所市场监管局园林所","addr":"潜江市园林办事处红军路15号","dept2":"园林所市场监管局园林所","addr2":"湖北省潜江市潜江市园林办事处红军路15号"},
{"no":8238,"lic":"JY24290050015687","type":"食品经营许可证（餐饮JY2）","name":"***","code":"92429005MA49WRKN61","status":"许可失效","org":"潜江市食品药品监督管理局","start":"2017-06-02","end":"2022-06-01","dept":"园林所市场监管局园林所","addr":"潜江市园林办事处儒学路1号","dept2":"园林所市场监管局园林所","addr2":"湖北省潜江市潜江市园林办事处儒学路1号"},
{"no":8239,"lic":"JY24290050015726","type":"食品经营许可证（餐饮JY2）","name":"***","code":"92429005MA48RQ1A8K","status":"许可失效","org":"潜江市食品药品监督管理局","start":"2017-06-02","end":"2022-06-01","dept":"园林所市场监管局园林所","addr":"潜江市园林办事处园林路38号","dept2":"园林所市场监管局园林所","addr2":"湖北省潜江市潜江市园林办事处园林路38号"},
{"no":8240,"lic":"JY24290050015759","type":"食品经营许可证（餐饮JY2）","name":"潜江市爱博住宿服务中心","code":"92429005MA49WWM39P","status":"许可失效","org":"潜江市食品药品监督管理局","start":"2017-06-02","end":"2022-06-04","dept":"园林所市场监管局园林所","addr":"潜江市园林办事处城南居委会二组118号","dept2":"园林所市场监管局园林所","addr2":"湖北省潜江市潜江市园林办事处城南居委会二组118号"},
{"no":8241,"lic":"JY24290050015767","type":"食品经营许可证（餐饮JY2）","name":"潜江市平秀粥铺","code":"92429005MA49UX92X0","status":"许可失效","org":"潜江市食品药品监督管理局","start":"2017-06-05","end":"2022-06-04","dept":"园林所市场监管局园林所","addr":"潜江市园林办事处育才路3号","dept2":"园林所市场监管局园林所","addr2":"湖北省潜江市潜江市园林办事处育才路3号"},
{"no":8242,"lic":"JY24290050015783","type":"食品经营许可证（餐饮JY2）","name":"潜江市世荣蛋糕店","code":"429005600608813","status":"许可失效","org":"潜江市食品药品监督管理局","start":"2017-06-06","end":"2022-06-05","dept":"园林所市场监管局园林所","addr":"潜江市园林办事处章华南路3号","dept2":"园林所市场监管局园林所","addr2":"湖北省潜江市潜江市园林办事处章华南路3号"},
{"no":8243,"lic":"JY24290050015863","type":"食品经营许可证（餐饮JY2）","name":"***","code":"92429005MA49WM0908","status":"许可失效","org":"潜江市食品药品监督管理局","start":"2017-06-07","end":"2022-06-06","dept":"园林所市场监管局园林所","addr":"潜江市园林办事处喻王巷119号","dept2":"园林所市场监管局园林所","addr2":"湖北省潜江市潜江市园林办事处喻王巷119号"},
{"no":8244,"lic":"JY24290050015898","type":"食品经营许可证（餐饮JY2）","name":"潜江市章华花苑酒店有限责任公司","code":"914290057674056019","status":"许可失效","org":"潜江市食品药品监督管理局","start":"2017-06-08","end":"2022-06-07","dept":"园林所市场监管局园林所","addr":"潜江市园林办事处红梅路88号","dept2":"园林所市场监管局园林所","addr2":"湖北省潜江市潜江市园林办事处红梅路88号"},
{"no":8245,"lic":"JY24290050015935","type":"食品经营许可证（餐饮JY2）","name":"***","code":"92429005MA48RRM53P","status":"许可失效","org":"潜江市食品药品监督管理局","start":"2017-06-09","end":"2022-06-08","dept":"园林所市场监管局园林所","addr":"潜江市园林办事处东风路98号","dept2":"园林所市场监管局园林所","addr2":"湖北省潜江市潜江市园林办事处东风路98号"},
{"no":8246,"lic":"JY24290050015943","type":"食品经营许可证（餐饮JY2）","name":"潜江市万菜餐馆","code":"92429005MA49UY594A","status":"许可失效","org":"潜江市食品药品监督管理局","start":"2017-06-09","end":"2022-06-08","dept":"园林所市场监管局园林所","addr":"潜江市园林办事处红军路217号","dept2":"园林所市场监管局园林所","addr2":"湖北省潜江市潜江市园林办事处红军路217号"},
{"no":8247,"lic":"JY24290050015960","type":"食品经营许可证（餐饮JY2）","name":"***","code":"92429005MA49X76F29","status":"许可失效","org":"潜江市食品药品监督管理局","start":"2017-06-09","end":"2022-06-08","dept":"园林所市场监管局园林所","addr":"湖北省潜江市园林办事处育才路25号育才花苑1-3号","dept2":"园林所市场监管局园林所","addr2":"湖北省潜江市湖北省潜江市园林办事处育才路25号育才花苑1-3号"},
{"no":8248,"lic":"JY24290050016028","type":"食品经营许可证（餐饮JY2）","name":"***","code":"92429005MA49X0Q75X","status":"许可失效","org":"潜江市食品药品监督管理局","start":"2017-06-14","end":"2022-06-13","dept":"园林所市场监管局园林所","addr":"潜江市园林办事处西堤巷5号","dept2":"园林所市场监管局园林所","addr2":"湖北省潜江市潜江市园林办事处西堤巷5号"},
{"no":8249,"lic":"JY24290050016069","type":"食品经营许可证（餐饮JY2）","name":"***","code":"92429005MA49UP8218","status":"许可失效","org":"潜江市食品药品监督管理局","start":"2017-10-10","end":"2022-06-15","dept":"园林所市场监管局园林所","addr":"潜江市园林办事处西堤巷15号","dept2":"园林所市场监管局园林所","addr2":"湖北省潜江市潜江市园林办事处西堤巷15号"},
{"no":8250,"lic":"JY24290050016077","type":"食品经营许可证（餐饮JY2）","name":"***","code":"92429005MA49WNP928","status":"许可失效","org":"潜江市食品药品监督管理局","start":"2017-06-20","end":"2022-06-19","dept":"园林所市场监管局园林所","addr":"潜江市园林办事处马昌垸路1号万和国际109号","dept2":"园林所市场监管局园林所","addr2":"湖北省潜江市潜江市园林办事处马昌垸路1号万和国际109号"},
{"no":8251,"lic":"JY24290050016149","type":"食品经营许可证（餐饮JY2）","name":"***","code":"92429005MA49U9K160","status":"许可失效","org":"潜江市食品药品监督管理局","start":"2017-06-30","end":"2022-06-29","dept":"园林所市场监管局园林所","addr":"潜江市园林办事处东风路61号","dept2":"园林所市场监管局园林所","addr2":"湖北省潜江市潜江市园林办事处东风路61号"},
{"no":8252,"lic":"JY24290050016157","type":"食品经营许可证（餐饮JY2）","name":"潜江市贪吃猫小吃店","code":"92429005MA49XTCT59","status":"许可失效","org":"潜江市食品药品监督管理局","start":"2017-11-02","end":"2022-06-29","dept":"园林所市场监管局园林所","addr":"潜江市园林办事处园林北路17号","dept2":"园林所市场监管局园林所","addr2":"湖北省潜江市潜江市园林办事处园林北路17号"},
{"no":8253,"lic":"JY24290050016307","type":"食品经营许可证（餐饮JY2）","name":"潜江市余吧潮牛火锅店","code":"92429005MA49TEBQ17","status":"许可失效","org":"潜江市食品药品监督管理局","start":"2017-07-04","end":"2022-07-03","dept":"园林所市场监管局园林所","addr":"潜江市园林办事处南浦路26号","dept2":"园林所市场监管局园林所","addr2":"湖北省潜江市潜江市园林办事处南浦路26号"},
{"no":8254,"lic":"JY24290050016358","type":"食品经营许可证（餐饮JY2）","name":"潜江市嘉裕酒店管理有限责任公司","code":"91429005747663726H","status":"许可失效","org":"潜江市食品药品监督管理局","start":"2017-07-11","end":"2022-07-10","dept":"园林所市场监管局园林所","addr":"潜江市园林办事处章华南路37号","dept2":"园林所市场监管局园林所","addr2":"湖北省潜江市潜江市园林办事处章华南路37号"},
{"no":8255,"lic":"JY24290050016399","type":"食品经营许可证（餐饮JY2）","name":"***","code":"92429005MA48YBBJ2T","status":"许可失效","org":"潜江市食品药品监督管理局","start":"2017-07-04","end":"2022-07-03","dept":"园林所市场监管局园林所","addr":"潜江市园林办事处师范路8号","dept2":"园林所市场监管局园林所","addr2":"湖北省潜江市潜江市园林办事处师范路8号"},
{"no":8256,"lic":"JY24290050016411","type":"食品经营许可证（餐饮JY2）","name":"***","code":"92429005MA49T5NF3H","status":"许可失效","org":"潜江市食品药品监督管理局","start":"2017-07-05","end":"2022-07-04","dept":"园林所市场监管局园林所","addr":"潜江市园林办事处东风路99号","dept2":"园林所市场监管局园林所","addr2":"湖北省潜江市潜江市园林办事处东风路99号"},
{"no":8257,"lic":"JY24290050016567","type":"食品经营许可证（餐饮JY2）","name":"***","code":"92429005MA48YD483A","status":"许可失效","org":"潜江市食品药品监督管理局","start":"2017-07-17","end":"2022-07-16","dept":"园林所市场监管局园林所","addr":"潜江市园林办事处喻王街156号","dept2":"园林所市场监管局园林所","addr2":"湖北省潜江市潜江市园林办事处喻王街156号"},
{"no":8258,"lic":"JY24290050016817","type":"食品经营许可证（餐饮JY2）","name":"潜江市三哥烧烤店","code":"92429005MA4C7YKX38","status":"许可失效","org":"潜江市食品药品监督管理局","start":"2017-11-03","end":"2022-07-27","dept":"园林所市场监管局园林所","addr":"潜江市园林办事处东风路107号","dept2":"园林所市场监管局园林所","addr2":"湖北省潜江市潜江市园林办事处东风路107号"},
{"no":8259,"lic":"JY24290050016833","type":"食品经营许可证（餐饮JY2）","name":"潜江市意味香食府","code":"92429005MA4C8F4F8F","status":"许可失效","org":"潜江市食品药品监督管理局","start":"2017-07-28","end":"2022-07-27","dept":"园林所市场监管局园林所","addr":"潜江市园林办事处马昌垸路3号","dept2":"园林所市场监管局园林所","addr2":"湖北省潜江市潜江市园林办事处马昌垸路3号"},
{"no":8260,"lic":"JY24290050016905","type":"食品经营许可证（餐饮JY2）","name":"潜江市任师傅烤肉饭快餐店","code":"92429005MA4C8A0652","status":"许可失效","org":"潜江市食品药品监督管理局","start":"2017-10-26","end":"2022-07-31","dept":"园林所市场监管局园林所","addr":"潜江市园林办事处县河街119号","dept2":"园林所市场监管局园林所","addr2":"湖北省潜江市潜江市园林办事处县河街119号"},
{"no":8261,"lic":"JY24290050016913","type":"食品经营许可证（餐饮JY2）","name":"潜江市哈儿一点味餐饮店","code":"92429005MA4C85B610","status":"许可失效","org":"潜江市食品药品监督管理局","start":"2017-08-01","end":"2022-07-31","dept":"园林所市场监管局园林所","addr":"潜江市园林办事处红军路32号","dept2":"园林所市场监管局园林所","addr2":"湖北省潜江市潜江市园林办事处红军路32号"},
{"no":8262,"lic":"JY24290050017053","type":"食品经营许可证（餐饮JY2）","name":"潜江市张阳咖啡馆","code":"92429005MA4C8LXT3D","status":"许可失效","org":"潜江市食品药品监督管理局","start":"2017-08-08","end":"2022-08-07","dept":"园林所市场监管局园林所","addr":"潜江市园林办事处殷台路66号锦绣潜城1栋12-13号","dept2":"园林所市场监管局园林所","addr2":"湖北省潜江市潜江市园林办事处殷台路66号锦绣潜城1栋12-13号"},
{"no":8263,"lic":"JY24290050017061","type":"食品经营许可证（餐饮JY2）","name":"***","code":"92429005MA4C9JG40W","status":"许可失效","org":"潜江市食品药品监督管理局","start":"2017-10-18","end":"2022-08-07","dept":"园林所市场监管局园林所","addr":"潜江市园林办事处园林路16号","dept2":"园林所市场监管局园林所","addr2":"湖北省潜江市潜江市园林办事处园林路16号"}
  ]},
  "hconcat": [
    {"width": 60, "height": 1729, "mark": "text", "encoding": {"y": {"field": "no", "type": "ordinal", "title": null, "scale": {"type": "band", "paddingInner": 0, "paddingOuter": 0}}, "text": {"field": "no", "type": "quantitative", "format": ","}}},
    {"width": 132, "height": 1729, "mark": "text", "encoding": {"y": {"field": "no", "type": "ordinal", "title": null, "scale": {"type": "band", "paddingInner": 0, "paddingOuter": 0}}, "text": {"field": "lic"}}},
    {"width": 210, "height": 1729, "mark": "text", "encoding": {"y": {"field": "no", "type": "ordinal", "title": null, "scale": {"type": "band", "paddingInner": 0, "paddingOuter": 0}}, "text": {"field": "type"}}},
    {"width": 281, "height": 1729, "mark": "text", "encoding": {"y": {"field": "no", "type": "ordinal", "title": null, "scale": {"type": "band", "paddingInner": 0, "paddingOuter": 0}}, "text": {"field": "name"}}},
    {"width": 166, "height": 1729, "mark": "text", "encoding": {"y": {"field": "no", "type": "ordinal", "title": null, "scale": {"type": "band", "paddingInner": 0, "paddingOuter": 0}}, "text": {"field": "code"}}},
    {"width": 86, "height": 1729, "mark": "text", "encoding": {"y": {"field": "no", "type": "ordinal", "title": null, "scale": {"type": "band", "paddingInner": 0, "paddingOuter": 0}}, "text": {"field": "status"}}},
    {"width": 154, "height": 1729, "mark": "text", "encoding": {"y": {"field": "no", "type": "ordinal", "title": null, "scale": {"type": "band", "paddingInner": 0, "paddingOuter": 0}}, "text": {"field": "org"}}},
    {"width": 113, "height": 1729, "mark": "text", "encoding": {"y": {"field": "no", "type": "ordinal", "title": null, "scale": {"type": "band", "paddingInner": 0, "paddingOuter": 0}}, "text": {"field": "start"}}},
    {"width": 98, "height": 1729, "mark": "text", "encoding": {"y": {"field": "no", "type": "ordinal", "title": null, "scale": {"type": "band", "paddingInner": 0, "paddingOuter": 0}}, "text": {"field": "end"}}},
    {"width": 229, "height": 1729, "mark": "text", "encoding": {"y": {"field": "no", "type": "ordinal", "title": null, "scale": {"type": "band", "paddingInner": 0, "paddingOuter": 0}}, "text": {"field": "dept"}}},
    {"width": 409, "height": 1729, "mark": "text", "encoding": {"y": {"field": "no", "type": "ordinal", "title": null, "scale": {"type": "band", "paddingInner": 0, "paddingOuter": 0}}, "text": {"field": "addr"}}},
    {"width": 229, "height": 1729, "mark": "text", "encoding": {"y": {"field": "no", "type": "ordinal", "title": null, "scale": {"type": "band", "paddingInner": 0, "paddingOuter": 0}}, "text": {"field": "dept2"}}},
    {"width": 444, "height": 1729, "mark": "text", "encoding": {"y": {"field": "no", "type": "ordinal", "title": null, "scale": {"type": "band", "paddingInner": 0, "paddingOuter": 0}}, "text": {"field": "addr2"}}}
  ],
  "config": {
    "view": {"stroke": "#a6c8e8", "strokeWidth": 1},
    "axis": {"grid": true, "gridColor": "#a6c8e8", "gridWidth": 1, "gridOpacity": 1, "tickBand": "extent", "labels": false, "ticks": false, "domain": false, "minExtent": 0, "maxExtent": 0},
    "text": {"font": "Liberation Sans, Noto Sans CJK SC", "fontSize": 11, "fill": "#333333"}
  }
}
